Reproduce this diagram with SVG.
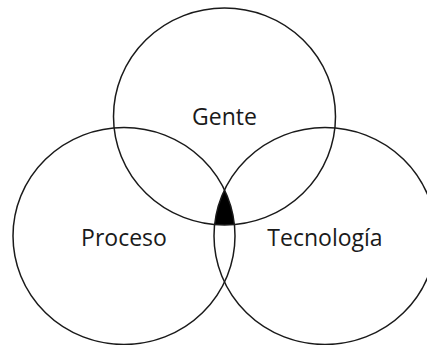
<svg xmlns="http://www.w3.org/2000/svg" width="427" height="345" viewBox="0 0 427 345">
<style>
.c{fill:none;stroke:#1a1a1a;stroke-width:1.5}
.t{font-family:"Open Sans","Noto Sans","Liberation Sans",sans-serif;font-size:23px;fill:#1a1a1a;text-anchor:middle}
</style>
<defs>
<clipPath id="cL"><ellipse cx="124" cy="236" rx="111" ry="108.5"/></clipPath>
<clipPath id="cR"><ellipse cx="325" cy="236" rx="111" ry="108.5"/></clipPath>
</defs>
<rect width="427" height="345" fill="#fff"/>
<g id="center">
<g clip-path="url(#cL)"><g clip-path="url(#cR)"><ellipse cx="224.5" cy="116.5" rx="111" ry="108.5" fill="#000"/></g></g>
</g>
<g id="gente"><ellipse class="c" cx="224.5" cy="116.5" rx="111" ry="108.5"/><text class="t" x="224.5" y="125">Gente</text></g>
<g id="proceso"><ellipse class="c" cx="124" cy="236" rx="111" ry="108.5"/><text class="t" x="124" y="246">Proceso</text></g>
<g id="tecnologia"><ellipse class="c" cx="325" cy="236" rx="111" ry="108.5"/><text class="t" x="325" y="246">Tecnología</text></g>
</svg>
